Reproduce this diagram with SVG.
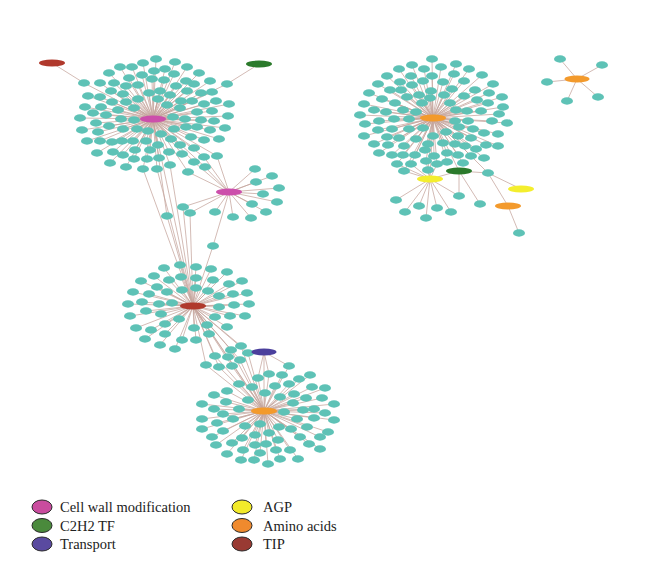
<svg xmlns="http://www.w3.org/2000/svg" xmlns:xlink="http://www.w3.org/1999/xlink" width="660" height="583" viewBox="0 0 660 583">
<style>
.e{fill:none;stroke:#c4a49c;stroke-width:0.75}
.s use{fill:#5ec2b6}
.hub{stroke:none}
.lg{font-family:"Liberation Serif","Times New Roman",serif;font-size:14.5px;fill:#222}
.lk{stroke:#2a2a2a;stroke-width:1}
</style>
<defs>
<ellipse id="t" cx="0" cy="0" rx="6" ry="3.7"/>
</defs>
<rect width="660" height="583" fill="#ffffff"/>
<g id="connectors">
<path class="e" d="M153 119L156 59M153 119L175 62M153 119L143 63M153 119L120 67M153 119L132 67M153 119L187 67M153 119L165 69M153 119L109 73M153 119L154 71M153 119L142 75M153 119L174 74M153 119L199 73M153 119L129 78M153 119L152 79M153 119L164 80M153 119L186 81M153 119L210 81M153 119L84 83M153 119L100 83M153 119L114 83M153 119L138 85M153 119L176 86M153 119L194 84M153 119L227 84M153 119L126 86M153 119L111 91M153 119L149 93M153 119L160 91M153 119L187 91M153 119L201 93M153 119L212 92M153 119L88 96M153 119L100 97M153 119L123 94M153 119L170 95M153 119L112 102M153 119L126 102M153 119L138 99M153 119L158 99M153 119L181 101M153 119L192 101M153 119L216 101M153 119L229 104M153 119L85 107M153 119L101 107M153 119L118 110M153 119L134 108M153 119L167 105M153 119L180 108M153 119L204 104M153 119L212 111M153 119L93 113M153 119L106 115M153 119L173 117M153 119L197 112M153 119L228 116M153 119L80 118M153 119L96 123M153 119L121 119M153 119L134 120M153 119L185 119M153 119L201 120M153 119L214 121M153 119L109 126M153 119L123 129M153 119L137 129M153 119L148 131M153 119L174 129M153 119L186 127M153 119L197 127M153 119L210 130M153 119L225 128M153 119L82 130M153 119L98 132M153 119L161 134M153 119L87 141M153 119L100 141M153 119L112 142M153 119L122 141M153 119L133 141M153 119L146 141M153 119L171 139M153 119L191 137M153 119L204 140M153 119L219 139M153 119L158 145M153 119L180 145M153 119L194 148M153 119L97 153M153 119L113 152M153 119L135 150M153 119L150 150M153 119L169 152M153 119L182 154M153 119L204 157M153 119L217 156M153 119L123 155M153 119L134 159M153 119L147 159M153 119L159 158M153 119L194 162M153 119L110 163M153 119L126 167M153 119L143 169M153 119L157 169M153 119L170 165M153 119L205 167M153 119L188 172M52 63L84 83M259 64L227 84"/>
<path class="e" d="M229 192L255 169M229 192L272 176M229 192L256 182M229 192L279 188M229 192L263 194M229 192L277 202M229 192L252 204M229 192L266 212M229 192L251 218M229 192L233 217M229 192L215 212M229 192L190 213M229 192L183 207M229 192L213 246M229 192L217 156M229 192L205 167M229 192L188 172M229 192L194 162M229 192L204 157M153 119L167 216M167 216L193 306M183 207L193 306M190 213L193 306M213 246L193 306M143 169L193 306M157 169L193 306M170 165L193 306M153 119L193 306"/>
<path class="e" d="M193 306L164 268M193 306L180 265M193 306L196 267M193 306L211 269M193 306L227 272M193 306L154 276M193 306L169 280M193 306L181 277M193 306L196 278M193 306L213 280M193 306L229 284M193 306L242 281M193 306L141 281M193 306L157 287M193 306L182 290M193 306L196 288M193 306L208 291M193 306L133 292M193 306L149 294M193 306L167 292M193 306L219 296M193 306L233 294M193 306L247 293M193 306L128 304M193 306L142 302M193 306L159 304M193 306L172 303M193 306L219 307M193 306L234 305M193 306L249 304M193 306L130 316M193 306L146 311M193 306L161 314M193 306L179 319M193 306L215 317M193 306L230 316M193 306L245 316M193 306L136 328M193 306L151 330M193 306L165 324M193 306L194 328M193 306L207 325M193 306L227 327M193 306L145 339M193 306L165 334M193 306L182 340M193 306L196 340M193 306L209 334M193 306L160 345M193 306L175 349M193 306L241 346M193 306L231 350M193 306L215 356M193 306L228 357M193 306L240 360M193 306L248 353M193 306L206 365M193 306L219 367M193 306L232 366M193 306L264 411M264 411L241 346M264 411L231 350M264 411L215 356M264 411L228 357M264 411L240 360M264 411L248 353M264 411L206 365M264 411L219 367M264 411L232 366M264 352L248 353M264 352L289 366M264 352L258 378M264 352L269 374M264 352L264 411"/>
<path class="e" d="M264 411L289 366M264 411L258 378M264 411L269 374M264 411L282 375M264 411L299 379M264 411L310 375M264 411L239 384M264 411L252 387M264 411L275 386M264 411L289 384M264 411L312 387M264 411L325 388M264 411L227 391M264 411L214 395M264 411L265 393M264 411L280 397M264 411L294 394M264 411L306 398M264 411L322 398M264 411L226 402M264 411L248 400M264 411L293 403M264 411L303 410M264 411L334 404M264 411L202 404M264 411L214 409M264 411L239 409M264 411L284 412M264 411L314 409M264 411L325 413M264 411L223 414M264 411L202 419M264 411L217 423M264 411L233 419M264 411L260 424M264 411L297 419M264 411L314 418M264 411L334 420M264 411L245 426M264 411L279 427M264 411L291 429M264 411L307 427M264 411L202 429M264 411L223 431M264 411L212 437M264 411L255 435M264 411L269 433M264 411L328 432M264 411L242 438M264 411L278 440M264 411L300 437M264 411L320 437M264 411L216 445M264 411L232 443M264 411L255 445M264 411L266 444M264 411L309 444M264 411L290 450M264 411L227 454M264 411L243 450M264 411L260 453M264 411L276 450M264 411L298 459M264 411L241 460M264 411L254 460M264 411L280 459M264 411L268 464M264 411L320 449"/>
<path class="e" d="M433 118L432 59M433 118L412 65M433 118L456 64M433 118L399 69M433 118L424 69M433 118L441 67M433 118L469 69M433 118L387 76M433 118L411 76M433 118L432 76M433 118L454 74M433 118L482 75M433 118L400 82M433 118L423 81M433 118L443 82M433 118L464 81M433 118L378 84M433 118L412 85M433 118L493 84M433 118L390 90M433 118L401 90M433 118L431 91M433 118L452 89M433 118L475 90M433 118L369 93M433 118L419 95M433 118L444 95M433 118L464 96M433 118L489 93M433 118L502 97M433 118L382 99M433 118L407 97M433 118L430 98M433 118L477 100M433 118L364 104M433 118L395 103M433 118L422 103M433 118L450 103M433 118L488 103M433 118L503 107M433 118L374 110M433 118L386 112M433 118L403 110M433 118L416 112M433 118L456 110M433 118L467 111M433 118L481 111M433 118L499 114M433 118L360 115M433 118L394 119M433 118L409 119M433 118L455 121M433 118L468 121M433 118L492 121M433 118L507 123M433 118L365 124M433 118L379 121M433 118L392 129M433 118L378 130M433 118L409 129M433 118L423 128M433 118L446 132M433 118L459 127M433 118L473 129M433 118L484 133M433 118L498 134M433 118L364 136M433 118L387 137M433 118L399 138M433 118L416 139M433 118L433 136M433 118L458 136M433 118L471 138M433 118L374 144M433 118L388 145M433 118L404 146M433 118L428 144M433 118L443 143M433 118L455 144M433 118L465 146M433 118L486 145M433 118L498 146M433 118L379 153M433 118L392 155M433 118L403 155M433 118L415 155M433 118L425 150M433 118L434 156M433 118L447 153M433 118L458 155M433 118L476 149M433 118L471 156M433 118L484 158M433 118L397 164M433 118L411 164M433 118L426 161M433 118L437 164M433 118L447 162M433 118L463 163M433 118L404 171M433 118L428 170M433 118L430 179M433 118L459 171M433 118L488 173M430 179L396 200M430 179L405 212M430 179L419 206M430 179L426 218M430 179L437 208M430 179L451 212M430 179L459 196M430 179L404 171M430 179L428 170M430 179L411 164M430 179L426 161M430 179L397 164M430 179L437 164M430 179L459 171M459 171L459 196M459 171L480 204M459 171L488 173M488 173L521 189M488 173L508 206M508 206L519 233M577 79L560 59M577 79L602 65M577 79L547 82M577 79L567 101M577 79L598 97"/>
</g>
<g id="satellites" class="s">
<use href="#t" x="156" y="59"/><use href="#t" x="175" y="62"/><use href="#t" x="143" y="63"/><use href="#t" x="120" y="67"/><use href="#t" x="132" y="67"/><use href="#t" x="187" y="67"/><use href="#t" x="165" y="69"/><use href="#t" x="109" y="73"/><use href="#t" x="154" y="71"/><use href="#t" x="142" y="75"/><use href="#t" x="174" y="74"/><use href="#t" x="199" y="73"/><use href="#t" x="129" y="78"/><use href="#t" x="152" y="79"/><use href="#t" x="164" y="80"/><use href="#t" x="186" y="81"/><use href="#t" x="210" y="81"/><use href="#t" x="84" y="83"/><use href="#t" x="100" y="83"/><use href="#t" x="114" y="83"/><use href="#t" x="138" y="85"/><use href="#t" x="176" y="86"/><use href="#t" x="194" y="84"/><use href="#t" x="227" y="84"/><use href="#t" x="126" y="86"/><use href="#t" x="111" y="91"/><use href="#t" x="149" y="93"/><use href="#t" x="160" y="91"/><use href="#t" x="187" y="91"/><use href="#t" x="201" y="93"/><use href="#t" x="212" y="92"/><use href="#t" x="88" y="96"/><use href="#t" x="100" y="97"/><use href="#t" x="123" y="94"/><use href="#t" x="170" y="95"/><use href="#t" x="112" y="102"/><use href="#t" x="126" y="102"/><use href="#t" x="138" y="99"/><use href="#t" x="158" y="99"/><use href="#t" x="181" y="101"/><use href="#t" x="192" y="101"/><use href="#t" x="216" y="101"/><use href="#t" x="229" y="104"/><use href="#t" x="85" y="107"/><use href="#t" x="101" y="107"/><use href="#t" x="118" y="110"/><use href="#t" x="134" y="108"/><use href="#t" x="167" y="105"/><use href="#t" x="180" y="108"/><use href="#t" x="204" y="104"/><use href="#t" x="212" y="111"/><use href="#t" x="93" y="113"/><use href="#t" x="106" y="115"/><use href="#t" x="173" y="117"/><use href="#t" x="197" y="112"/><use href="#t" x="228" y="116"/><use href="#t" x="80" y="118"/><use href="#t" x="96" y="123"/><use href="#t" x="121" y="119"/><use href="#t" x="134" y="120"/><use href="#t" x="185" y="119"/><use href="#t" x="201" y="120"/><use href="#t" x="214" y="121"/><use href="#t" x="109" y="126"/><use href="#t" x="123" y="129"/><use href="#t" x="137" y="129"/><use href="#t" x="148" y="131"/><use href="#t" x="174" y="129"/><use href="#t" x="186" y="127"/><use href="#t" x="197" y="127"/><use href="#t" x="210" y="130"/><use href="#t" x="225" y="128"/><use href="#t" x="82" y="130"/><use href="#t" x="98" y="132"/><use href="#t" x="161" y="134"/><use href="#t" x="87" y="141"/><use href="#t" x="100" y="141"/><use href="#t" x="112" y="142"/><use href="#t" x="122" y="141"/><use href="#t" x="133" y="141"/><use href="#t" x="146" y="141"/><use href="#t" x="171" y="139"/><use href="#t" x="191" y="137"/><use href="#t" x="204" y="140"/><use href="#t" x="219" y="139"/><use href="#t" x="158" y="145"/><use href="#t" x="180" y="145"/><use href="#t" x="194" y="148"/><use href="#t" x="97" y="153"/><use href="#t" x="113" y="152"/><use href="#t" x="135" y="150"/><use href="#t" x="150" y="150"/><use href="#t" x="169" y="152"/><use href="#t" x="182" y="154"/><use href="#t" x="204" y="157"/><use href="#t" x="217" y="156"/><use href="#t" x="123" y="155"/><use href="#t" x="134" y="159"/><use href="#t" x="147" y="159"/><use href="#t" x="159" y="158"/><use href="#t" x="194" y="162"/><use href="#t" x="110" y="163"/><use href="#t" x="126" y="167"/><use href="#t" x="143" y="169"/><use href="#t" x="157" y="169"/><use href="#t" x="170" y="165"/><use href="#t" x="205" y="167"/><use href="#t" x="188" y="172"/>
<use href="#t" x="255" y="169"/><use href="#t" x="272" y="176"/><use href="#t" x="256" y="182"/><use href="#t" x="279" y="188"/><use href="#t" x="263" y="194"/><use href="#t" x="277" y="202"/><use href="#t" x="252" y="204"/><use href="#t" x="266" y="212"/><use href="#t" x="251" y="218"/><use href="#t" x="233" y="217"/><use href="#t" x="215" y="212"/><use href="#t" x="190" y="213"/><use href="#t" x="183" y="207"/><use href="#t" x="167" y="216"/><use href="#t" x="213" y="246"/>
<use href="#t" x="164" y="268"/><use href="#t" x="180" y="265"/><use href="#t" x="196" y="267"/><use href="#t" x="211" y="269"/><use href="#t" x="227" y="272"/><use href="#t" x="154" y="276"/><use href="#t" x="169" y="280"/><use href="#t" x="181" y="277"/><use href="#t" x="196" y="278"/><use href="#t" x="213" y="280"/><use href="#t" x="229" y="284"/><use href="#t" x="242" y="281"/><use href="#t" x="141" y="281"/><use href="#t" x="157" y="287"/><use href="#t" x="182" y="290"/><use href="#t" x="196" y="288"/><use href="#t" x="208" y="291"/><use href="#t" x="133" y="292"/><use href="#t" x="149" y="294"/><use href="#t" x="167" y="292"/><use href="#t" x="219" y="296"/><use href="#t" x="233" y="294"/><use href="#t" x="247" y="293"/><use href="#t" x="128" y="304"/><use href="#t" x="142" y="302"/><use href="#t" x="159" y="304"/><use href="#t" x="172" y="303"/><use href="#t" x="219" y="307"/><use href="#t" x="234" y="305"/><use href="#t" x="249" y="304"/><use href="#t" x="130" y="316"/><use href="#t" x="146" y="311"/><use href="#t" x="161" y="314"/><use href="#t" x="179" y="319"/><use href="#t" x="215" y="317"/><use href="#t" x="230" y="316"/><use href="#t" x="245" y="316"/><use href="#t" x="136" y="328"/><use href="#t" x="151" y="330"/><use href="#t" x="165" y="324"/><use href="#t" x="194" y="328"/><use href="#t" x="207" y="325"/><use href="#t" x="227" y="327"/><use href="#t" x="145" y="339"/><use href="#t" x="165" y="334"/><use href="#t" x="182" y="340"/><use href="#t" x="196" y="340"/><use href="#t" x="209" y="334"/><use href="#t" x="160" y="345"/><use href="#t" x="175" y="349"/>
<use href="#t" x="241" y="346"/><use href="#t" x="231" y="350"/><use href="#t" x="215" y="356"/><use href="#t" x="228" y="357"/><use href="#t" x="240" y="360"/><use href="#t" x="248" y="353"/><use href="#t" x="206" y="365"/><use href="#t" x="219" y="367"/><use href="#t" x="232" y="366"/>
<use href="#t" x="289" y="366"/><use href="#t" x="258" y="378"/><use href="#t" x="269" y="374"/><use href="#t" x="282" y="375"/><use href="#t" x="299" y="379"/><use href="#t" x="310" y="375"/><use href="#t" x="239" y="384"/><use href="#t" x="252" y="387"/><use href="#t" x="275" y="386"/><use href="#t" x="289" y="384"/><use href="#t" x="312" y="387"/><use href="#t" x="325" y="388"/><use href="#t" x="227" y="391"/><use href="#t" x="214" y="395"/><use href="#t" x="265" y="393"/><use href="#t" x="280" y="397"/><use href="#t" x="294" y="394"/><use href="#t" x="306" y="398"/><use href="#t" x="322" y="398"/><use href="#t" x="226" y="402"/><use href="#t" x="248" y="400"/><use href="#t" x="293" y="403"/><use href="#t" x="303" y="410"/><use href="#t" x="334" y="404"/><use href="#t" x="202" y="404"/><use href="#t" x="214" y="409"/><use href="#t" x="239" y="409"/><use href="#t" x="284" y="412"/><use href="#t" x="314" y="409"/><use href="#t" x="325" y="413"/><use href="#t" x="223" y="414"/><use href="#t" x="202" y="419"/><use href="#t" x="217" y="423"/><use href="#t" x="233" y="419"/><use href="#t" x="260" y="424"/><use href="#t" x="297" y="419"/><use href="#t" x="314" y="418"/><use href="#t" x="334" y="420"/><use href="#t" x="245" y="426"/><use href="#t" x="279" y="427"/><use href="#t" x="291" y="429"/><use href="#t" x="307" y="427"/><use href="#t" x="202" y="429"/><use href="#t" x="223" y="431"/><use href="#t" x="212" y="437"/><use href="#t" x="255" y="435"/><use href="#t" x="269" y="433"/><use href="#t" x="328" y="432"/><use href="#t" x="242" y="438"/><use href="#t" x="278" y="440"/><use href="#t" x="300" y="437"/><use href="#t" x="320" y="437"/><use href="#t" x="216" y="445"/><use href="#t" x="232" y="443"/><use href="#t" x="255" y="445"/><use href="#t" x="266" y="444"/><use href="#t" x="309" y="444"/><use href="#t" x="290" y="450"/><use href="#t" x="227" y="454"/><use href="#t" x="243" y="450"/><use href="#t" x="260" y="453"/><use href="#t" x="276" y="450"/><use href="#t" x="298" y="459"/><use href="#t" x="241" y="460"/><use href="#t" x="254" y="460"/><use href="#t" x="280" y="459"/><use href="#t" x="268" y="464"/><use href="#t" x="320" y="449"/>
<use href="#t" x="432" y="59"/><use href="#t" x="412" y="65"/><use href="#t" x="456" y="64"/><use href="#t" x="399" y="69"/><use href="#t" x="424" y="69"/><use href="#t" x="441" y="67"/><use href="#t" x="469" y="69"/><use href="#t" x="387" y="76"/><use href="#t" x="411" y="76"/><use href="#t" x="432" y="76"/><use href="#t" x="454" y="74"/><use href="#t" x="482" y="75"/><use href="#t" x="400" y="82"/><use href="#t" x="423" y="81"/><use href="#t" x="443" y="82"/><use href="#t" x="464" y="81"/><use href="#t" x="378" y="84"/><use href="#t" x="412" y="85"/><use href="#t" x="493" y="84"/><use href="#t" x="390" y="90"/><use href="#t" x="401" y="90"/><use href="#t" x="431" y="91"/><use href="#t" x="452" y="89"/><use href="#t" x="475" y="90"/><use href="#t" x="369" y="93"/><use href="#t" x="419" y="95"/><use href="#t" x="444" y="95"/><use href="#t" x="464" y="96"/><use href="#t" x="489" y="93"/><use href="#t" x="502" y="97"/><use href="#t" x="382" y="99"/><use href="#t" x="407" y="97"/><use href="#t" x="430" y="98"/><use href="#t" x="477" y="100"/><use href="#t" x="364" y="104"/><use href="#t" x="395" y="103"/><use href="#t" x="422" y="103"/><use href="#t" x="450" y="103"/><use href="#t" x="488" y="103"/><use href="#t" x="503" y="107"/><use href="#t" x="374" y="110"/><use href="#t" x="386" y="112"/><use href="#t" x="403" y="110"/><use href="#t" x="416" y="112"/><use href="#t" x="456" y="110"/><use href="#t" x="467" y="111"/><use href="#t" x="481" y="111"/><use href="#t" x="499" y="114"/><use href="#t" x="360" y="115"/><use href="#t" x="394" y="119"/><use href="#t" x="409" y="119"/><use href="#t" x="455" y="121"/><use href="#t" x="468" y="121"/><use href="#t" x="492" y="121"/><use href="#t" x="507" y="123"/><use href="#t" x="365" y="124"/><use href="#t" x="379" y="121"/><use href="#t" x="392" y="129"/><use href="#t" x="378" y="130"/><use href="#t" x="409" y="129"/><use href="#t" x="423" y="128"/><use href="#t" x="446" y="132"/><use href="#t" x="459" y="127"/><use href="#t" x="473" y="129"/><use href="#t" x="484" y="133"/><use href="#t" x="498" y="134"/><use href="#t" x="364" y="136"/><use href="#t" x="387" y="137"/><use href="#t" x="399" y="138"/><use href="#t" x="416" y="139"/><use href="#t" x="433" y="136"/><use href="#t" x="458" y="136"/><use href="#t" x="471" y="138"/><use href="#t" x="374" y="144"/><use href="#t" x="388" y="145"/><use href="#t" x="404" y="146"/><use href="#t" x="428" y="144"/><use href="#t" x="443" y="143"/><use href="#t" x="455" y="144"/><use href="#t" x="465" y="146"/><use href="#t" x="486" y="145"/><use href="#t" x="498" y="146"/><use href="#t" x="379" y="153"/><use href="#t" x="392" y="155"/><use href="#t" x="403" y="155"/><use href="#t" x="415" y="155"/><use href="#t" x="425" y="150"/><use href="#t" x="434" y="156"/><use href="#t" x="447" y="153"/><use href="#t" x="458" y="155"/><use href="#t" x="476" y="149"/><use href="#t" x="471" y="156"/><use href="#t" x="484" y="158"/><use href="#t" x="397" y="164"/><use href="#t" x="411" y="164"/><use href="#t" x="426" y="161"/><use href="#t" x="437" y="164"/><use href="#t" x="447" y="162"/><use href="#t" x="463" y="163"/><use href="#t" x="404" y="171"/><use href="#t" x="428" y="170"/>
<use href="#t" x="396" y="200"/><use href="#t" x="405" y="212"/><use href="#t" x="419" y="206"/><use href="#t" x="426" y="218"/><use href="#t" x="437" y="208"/><use href="#t" x="451" y="212"/><use href="#t" x="459" y="196"/><use href="#t" x="480" y="204"/><use href="#t" x="488" y="173"/><use href="#t" x="519" y="233"/>
<use href="#t" x="560" y="59"/><use href="#t" x="602" y="65"/><use href="#t" x="547" y="82"/><use href="#t" x="567" y="101"/><use href="#t" x="598" y="97"/>
</g>
<g id="hub-tip-1"><ellipse class="hub" cx="52" cy="63" rx="13" ry="3.4" fill="#b0392c"/></g>
<g id="hub-c2h2-1"><ellipse class="hub" cx="259" cy="64" rx="13" ry="3.4" fill="#2b7a2b"/></g>
<g id="hub-cellwall-1"><ellipse class="hub" cx="153" cy="119" rx="13" ry="3.4" fill="#cc4fab"/></g>
<g id="hub-cellwall-2"><ellipse class="hub" cx="229" cy="192" rx="13" ry="3.4" fill="#cc4fab"/></g>
<g id="hub-tip-2"><ellipse class="hub" cx="193" cy="306" rx="13" ry="3.4" fill="#b0392c"/></g>
<g id="hub-transport"><ellipse class="hub" cx="264" cy="352" rx="12.5" ry="3.4" fill="#4b3f9c"/></g>
<g id="hub-amino-1"><ellipse class="hub" cx="264" cy="411" rx="13" ry="3.4" fill="#f39a2c"/></g>
<g id="hub-amino-2"><ellipse class="hub" cx="433" cy="118" rx="13" ry="3.4" fill="#f39a2c"/></g>
<g id="hub-agp-1"><ellipse class="hub" cx="430" cy="179" rx="13" ry="3.4" fill="#f4ee2e"/></g>
<g id="hub-c2h2-2"><ellipse class="hub" cx="459" cy="171" rx="13" ry="3.4" fill="#2b7a2b"/></g>
<g id="hub-agp-2"><ellipse class="hub" cx="521" cy="189" rx="13" ry="3.4" fill="#f4ee2e"/></g>
<g id="hub-amino-3"><ellipse class="hub" cx="508" cy="206" rx="13" ry="3.4" fill="#f39a2c"/></g>
<g id="hub-amino-4"><ellipse class="hub" cx="577" cy="79" rx="12.5" ry="3.4" fill="#f39a2c"/></g>
<g id="legend">
<ellipse class="lk" cx="42" cy="507" rx="10" ry="7" fill="#c94c9e"/>
<text class="lg" x="60" y="512">Cell wall modification</text>
<ellipse class="lk" cx="42" cy="525.5" rx="10" ry="7" fill="#4a8a3c"/>
<text class="lg" x="60" y="530.5">C2H2 TF</text>
<ellipse class="lk" cx="42" cy="544" rx="10" ry="7" fill="#5a4aa0"/>
<text class="lg" x="60" y="549">Transport</text>
<ellipse class="lk" cx="242" cy="507" rx="10" ry="7" fill="#f2ea2a"/>
<text class="lg" x="263" y="512">AGP</text>
<ellipse class="lk" cx="242" cy="525.5" rx="10" ry="7" fill="#ef8a2e"/>
<text class="lg" x="263" y="530.5">Amino acids</text>
<ellipse class="lk" cx="242" cy="544" rx="10" ry="7" fill="#993a33"/>
<text class="lg" x="263" y="549">TIP</text>
</g>
</svg>
